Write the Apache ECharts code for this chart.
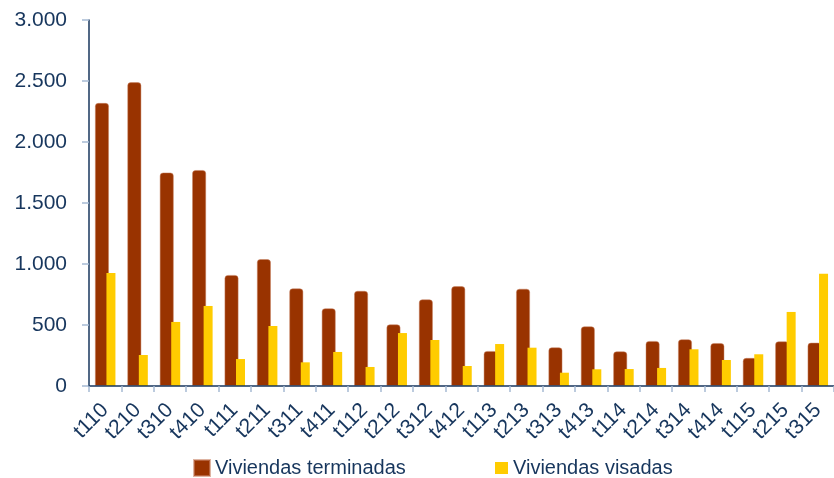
<!DOCTYPE html>
<html><head><meta charset="utf-8">
<script src="https://cdn.jsdelivr.net/npm/echarts@6/dist/echarts.min.js"></script>
<style>html,body{margin:0;padding:0;background:#fff}#c{width:834px;height:478px}</style>
</head><body><div id="c"></div>
<script>
const categories = ['t110','t210','t310','t410','t111','t211','t311','t411','t112','t212','t312','t412','t113','t213','t313','t413','t114','t214','t314','t414','t115','t215','t315'];
const terminadas = [2320,2490,1750,1770,910,1040,800,637,780,505,710,818,287,797,317,489,284,369,383,352,230,366,355];
const visadas = [926,254,525,656,221,492,194,279,156,434,377,164,344,314,109,137,139,148,301,213,260,607,920];
const yTicks = [0,500,1000,1500,2000,2500,3000];

const navy = '#17365D';
const tickColor = '#A7BBD4';
const chart = echarts.init(document.getElementById('c'), null, {renderer:'canvas'});
chart.setOption({
  animation:false,
  backgroundColor:'#fff',
  grid:{left:89, top:20, width:747.5, height:366, containLabel:false},
  legend:[
    {left:193, top:457, padding:0, itemWidth:16, itemHeight:16, itemGap:0, icon:'rect', data:['Viviendas terminadas'],
     textStyle:{fontFamily:'Liberation Sans, Arial', fontSize:20, color:navy, lineHeight:22}},
    {left:495, top:457, padding:0, itemWidth:13, itemHeight:12, itemGap:0, icon:'rect', data:['Viviendas visadas'],
     textStyle:{fontFamily:'Liberation Sans, Arial', fontSize:20, color:navy, lineHeight:22}}
  ],
  xAxis:{
    type:'category', data:categories, boundaryGap:true,
    axisLine:{lineStyle:{color:navy, width:1.5}},
    axisTick:{show:true, length:6, lineStyle:{color:tickColor, width:1.5}},
    axisLabel:{rotate:45, margin:21, interval:0, fontFamily:'Liberation Sans, Arial', fontSize:21, color:navy},
    z:10
  },
  yAxis:{
    type:'value', min:0, max:3000, interval:500,
    axisLine:{show:true, lineStyle:{color:navy, width:1.5}},
    axisTick:{show:true, length:7, lineStyle:{color:tickColor, width:1.5}},
    splitLine:{show:false},
    axisLabel:{margin:22, fontFamily:'Liberation Sans, Arial', fontSize:21, color:navy,
      formatter:v => yTicks.includes(v) ? v.toString().replace(/\B(?=(\d{3})+(?!\d))/g,'.') : ''}
  },
  series:[
    {name:'Viviendas terminadas', type:'bar', data:terminadas, barWidth:14, barGap:'-18%',
     itemStyle:{color:'#993300', borderRadius:[3,3,0,0], borderColor:'rgba(200,130,100,0.6)', borderWidth:0.8}},
    {name:'Viviendas visadas', type:'bar', data:visadas, barWidth:9, barGap:'-18%',
     itemStyle:{color:'#FFCC00'}}
  ]
});
</script></body></html>
